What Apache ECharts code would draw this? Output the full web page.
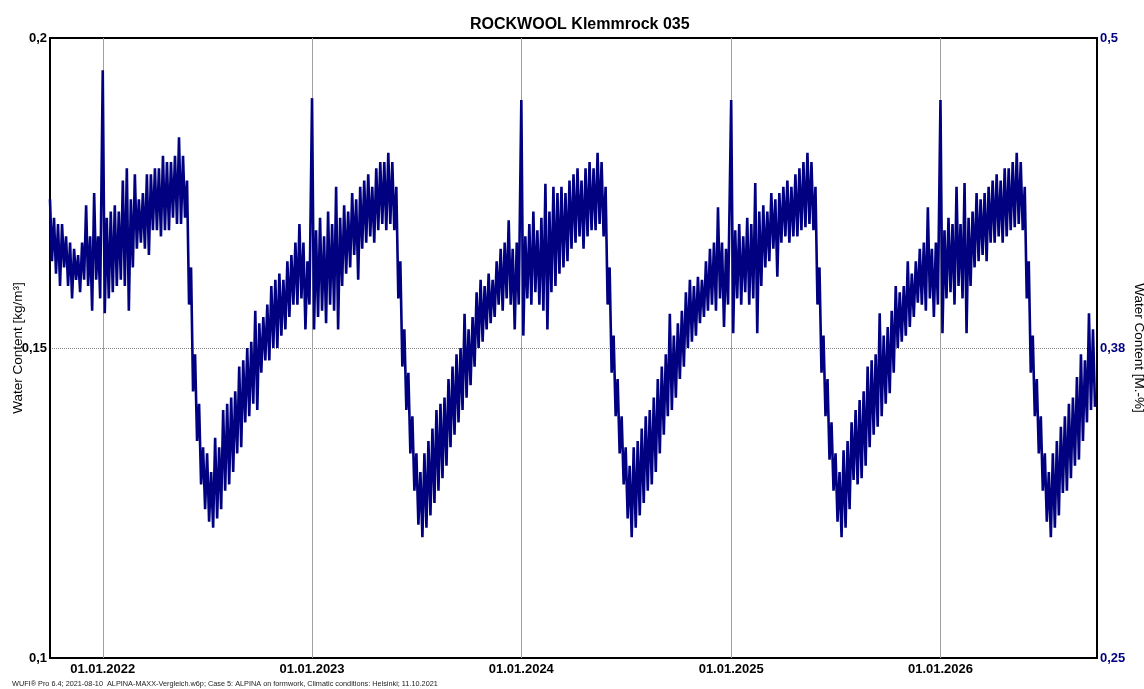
<!DOCTYPE html>
<html>
<head>
<meta charset="utf-8">
<script src="https://cdn.jsdelivr.net/npm/echarts@6/dist/echarts.min.js"></script>
<style>
html, body { margin: 0; padding: 0; background: #fff; }
#main { width: 1144px; height: 689px; }
</style>
</head>
<body>
<div id="main"></div>
<script>
// weekly upper / lower readings of the water content band [kg/m³]
var hi2021 = [0.174,0.171,0.170,0.170,0.168,0.167,0.166,0.165,0.167,0.173,0.168,0.175,0.168];
var lo2021 = [0.164,0.162,0.160,0.163,0.160,0.158,0.161,0.159,0.161,0.160,0.156,0.161,0.158];

var hi2022 = [0.1948,0.171,0.172,0.173,0.172,0.177,0.179,0.174,0.178,0.174,0.175,0.178,0.178,0.179,0.179,0.181,0.180,0.180,0.181,0.184,0.181,0.177,0.163,0.149,0.141,0.134,0.133,0.130,0.1355,0.134,0.140,0.141,0.142,0.143,0.147,0.148,0.150,0.151,0.156,0.154,0.155,0.157,0.160,0.161,0.162,0.161,0.164,0.165,0.167,0.170,0.167,0.164];
var lo2022 = [0.1556,0.158,0.159,0.160,0.161,0.160,0.156,0.163,0.166,0.167,0.166,0.165,0.169,0.169,0.168,0.169,0.169,0.171,0.170,0.170,0.171,0.157,0.143,0.135,0.128,0.124,0.122,0.121,0.1225,0.124,0.127,0.128,0.130,0.133,0.134,0.138,0.139,0.141,0.140,0.146,0.148,0.148,0.150,0.150,0.152,0.153,0.155,0.157,0.157,0.158,0.153,0.157];

var hi2023 = [0.1903,0.169,0.171,0.168,0.172,0.170,0.176,0.171,0.173,0.172,0.175,0.174,0.176,0.177,0.178,0.176,0.179,0.180,0.180,0.1815,0.180,0.176,0.164,0.153,0.146,0.139,0.133,0.130,0.133,0.135,0.137,0.140,0.141,0.142,0.145,0.147,0.149,0.150,0.1555,0.153,0.155,0.159,0.161,0.160,0.162,0.161,0.164,0.166,0.167,0.1706,0.166,0.167];
var lo2023 = [0.153,0.155,0.156,0.154,0.157,0.156,0.153,0.160,0.162,0.163,0.165,0.161,0.166,0.167,0.168,0.167,0.169,0.170,0.169,0.170,0.169,0.158,0.147,0.140,0.133,0.127,0.1215,0.1195,0.121,0.123,0.125,0.127,0.129,0.131,0.134,0.136,0.138,0.140,0.142,0.144,0.147,0.150,0.151,0.153,0.154,0.155,0.157,0.156,0.158,0.157,0.153,0.157];

var hi2024 = [0.190,0.168,0.170,0.172,0.169,0.171,0.1765,0.172,0.176,0.175,0.176,0.175,0.177,0.178,0.179,0.177,0.179,0.180,0.179,0.1815,0.180,0.176,0.163,0.152,0.145,0.139,0.134,0.131,0.134,0.135,0.137,0.139,0.140,0.142,0.145,0.147,0.149,0.1555,0.152,0.154,0.156,0.159,0.161,0.160,0.1615,0.161,0.164,0.166,0.167,0.1727,0.167,0.166];
var lo2024 = [0.152,0.158,0.157,0.159,0.157,0.156,0.153,0.159,0.160,0.162,0.163,0.164,0.166,0.167,0.168,0.166,0.168,0.169,0.169,0.170,0.168,0.157,0.146,0.139,0.133,0.128,0.1225,0.1195,0.121,0.123,0.125,0.127,0.128,0.130,0.133,0.136,0.139,0.140,0.142,0.145,0.147,0.150,0.151,0.152,0.154,0.155,0.156,0.157,0.156,0.158,0.1534,0.157];

var hi2025 = [0.190,0.169,0.170,0.168,0.171,0.170,0.1766,0.172,0.173,0.172,0.175,0.174,0.175,0.176,0.177,0.176,0.178,0.179,0.180,0.1815,0.180,0.176,0.163,0.152,0.145,0.138,0.133,0.130,0.1335,0.135,0.138,0.140,0.1416,0.143,0.147,0.148,0.149,0.1556,0.152,0.1534,0.156,0.160,0.159,0.160,0.164,0.162,0.164,0.166,0.167,0.1727,0.166,0.167];
var lo2025 = [0.1524,0.158,0.157,0.159,0.157,0.158,0.1524,0.160,0.163,0.164,0.166,0.1615,0.167,0.168,0.167,0.168,0.168,0.169,0.1695,0.170,0.169,0.157,0.146,0.139,0.132,0.127,0.122,0.1195,0.121,0.124,0.1287,0.128,0.129,0.131,0.134,0.136,0.1373,0.139,0.141,0.1427,0.146,0.150,0.151,0.152,0.1534,0.155,0.1573,0.157,0.156,0.158,0.155,0.157];

var hi2026 = [0.190,0.169,0.171,0.170,0.176,0.170,0.1766,0.171,0.172,0.175,0.174,0.175,0.176,0.177,0.178,0.177,0.179,0.179,0.180,0.1815,0.180,0.176,0.164,0.152,0.145,0.139,0.133,0.130,0.133,0.135,0.1373,0.139,0.141,0.142,0.1453,0.149,0.148,0.1556,0.153];
var lo2026 = [0.1524,0.158,0.159,0.157,0.160,0.158,0.1524,0.160,0.163,0.164,0.165,0.164,0.167,0.167,0.168,0.167,0.168,0.169,0.1695,0.170,0.169,0.158,0.146,0.139,0.133,0.127,0.122,0.1195,0.121,0.123,0.1266,0.127,0.129,0.131,0.132,0.135,0.138,0.140,0.1405];

var segmentStarts = ['2021-10-01', '2022-01-01', '2023-01-01', '2024-01-01', '2025-01-01', '2026-01-01'];
var startDate = '2021-10-01';
var endDate = '2026-10-01';

var DAY = 86400000;
function toTime(s) {
    var p = s.split('-');
    return new Date(+p[0], +p[1] - 1, +p[2]).getTime();
}
function comma(v) {
    return String(Math.round(v * 100) / 100).replace('.', ',');
}
function pad(n) { return n < 10 ? '0' + n : '' + n; }
function fmtDate(v) {
    var d = new Date(v);
    return pad(d.getDate()) + '.' + pad(d.getMonth() + 1) + '.' + d.getFullYear();
}

var his = [hi2021, hi2022, hi2023, hi2024, hi2025, hi2026];
var los = [lo2021, lo2022, lo2023, lo2024, lo2025, lo2026];
var lineData = [];
segmentStarts.forEach(function (s, k) {
    var t0 = toTime(s);
    his[k].forEach(function (v, i) {
        lineData.push([t0 + i * 7 * DAY, v]);
        lineData.push([t0 + i * 7 * DAY + 3.5 * DAY, los[k][i]]);
    });
});

var font = 'Liberation Sans, Arial, sans-serif';
var myChart = echarts.init(document.getElementById('main'));
var option = {
    animation: false,
    title: {
        text: 'ROCKWOOL Klemmrock 035',
        left: 465,
        top: 12,
        textStyle: { fontFamily: font, fontSize: 16, fontWeight: 'bold', color: '#000' }
    },
    graphic: [{
        type: 'text',
        left: 12,
        top: 680,
        style: {
            text: 'WUFI® Pro 6.4; 2021-08-10  ALPINA-MAXX-Vergleich.w6p; Case 5: ALPINA on formwork, Climatic conditions: Helsinki; 11.10.2021',
            fontFamily: font,
            fontSize: 7.3,
            fill: '#222'
        }
    }],
    grid: {
        left: 50, right: 47, top: 38, bottom: 31,
        outerBoundsMode: 'none',
        containLabel: false,
        show: true, borderColor: '#000', borderWidth: 2
    },
    xAxis: {
        type: 'time',
        min: toTime(startDate),
        max: toTime(endDate),
        minInterval: 365 * DAY,
        maxInterval: 366 * DAY,
        axisLine: { show: false },
        axisTick: { show: false },
        axisLabel: {
            formatter: fmtDate,
            fontFamily: font, fontSize: 13, fontWeight: 'bold', color: '#000', margin: 5
        },
        splitLine: { show: true, lineStyle: { color: '#a0a0a0', width: 1 } }
    },
    yAxis: [{
        type: 'value',
        position: 'left',
        min: 0.1, max: 0.2, interval: 0.05,
        name: 'Water Content [kg/m³]',
        nameLocation: 'middle',
        nameGap: 25,
        nameMoveOverlap: false,
        nameTextStyle: { fontFamily: font, fontSize: 13.5, color: '#000' },
        axisLine: { show: true, lineStyle: { color: '#000', width: 2 } },
        axisTick: { show: false },
        axisLabel: { formatter: comma, fontFamily: font, fontSize: 13, fontWeight: 'bold', color: '#000', margin: 3 },
        splitLine: { show: true, showMinLine: false, showMaxLine: false, lineStyle: { type: 'dotted', color: '#888', width: 1 } }
    }, {
        type: 'value',
        position: 'right',
        min: 0.25, max: 0.5, interval: 0.125,
        name: 'Water Content [M.-%]',
        nameLocation: 'middle',
        nameRotate: -90,
        nameGap: 35,
        nameMoveOverlap: false,
        nameTextStyle: { fontFamily: font, fontSize: 13.5, color: '#000' },
        axisLine: { show: true, lineStyle: { color: '#000', width: 2 } },
        axisTick: { show: false },
        axisLabel: { formatter: comma, fontFamily: font, fontSize: 13, fontWeight: 'bold', color: '#000080', margin: 3 },
        splitLine: { show: false }
    }],
    series: [{
        type: 'line',
        data: lineData,
        symbol: 'none',
        lineStyle: { color: '#000080', width: 2.6, join: 'miter' }
    }]
};
myChart.setOption(option);
</script>
</body>
</html>
